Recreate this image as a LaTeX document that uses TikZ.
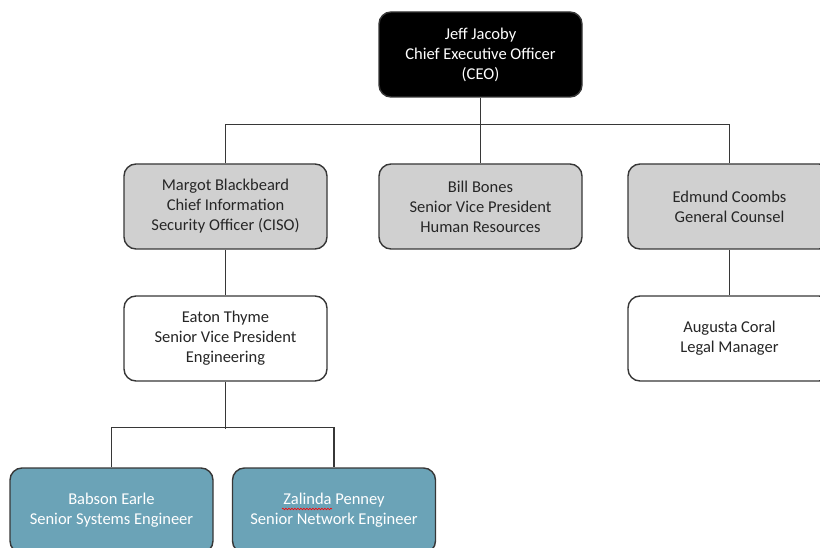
\documentclass[tikz,border=0pt]{standalone}
\usepackage{fontspec}
\setmainfont{Carlito}
\usepackage{tikz}
\usetikzlibrary{calc,decorations.pathmorphing}

\definecolor{boxgray}{RGB}{208,208,208}
\definecolor{boxteal}{RGB}{107,163,183}
\definecolor{edge}{RGB}{55,55,55}

\begin{document}
\begin{tikzpicture}[x=1pt, y=-1pt, main/.style = {draw=edge, line width=1.4pt, rounded corners=12pt, minimum width=203pt, minimum height=85pt, align=center, font=\fontsize{16.5}{20}\selectfont, text=black!85}, link/.style = {draw=edge, line width=1.2pt}] 
	\useasboundingbox (0, 0) rectangle (820, 548);
	\clip (0, 0) rectangle (820, 548);

	\node [main, fill=black, text=white] (0) at (480.5, 54.5) {Jeff Jacoby\\Chief Executive Officer\\(CEO)};
        \node [main, fill=boxgray] (1) at (225.5, 206.5) {Margot Blackbeard\\Chief Information\\Security Officer (CISO)};
	\node [main, fill=boxgray] (2) at (480.5, 206.5) {Bill Bones\\Senior Vice President\\Human Resources};
        \node [main, fill=boxgray] (3) at (729.5, 206.5) {Edmund Coombs\\General Counsel};
	\node [main, fill=white] (4) at (225.5, 338.5) {Eaton Thyme\\Senior Vice President\\Engineering};
	\node [main, fill=white] (5) at (729.5, 338.5) {Augusta Coral\\Legal Manager};
	\node [main, fill=boxteal, text=white] (6) at (111.5, 510.5) {Babson Earle\\Senior Systems Engineer};
	\node [main, fill=boxteal, text=white] (7) at (334, 510.5) {Zalinda Penney\\Senior Network Engineer};

    
    \draw[link] (0) --  (2);
    \draw[link] (1.north) -- ++(0, -39) -| (3.north);
    \draw[link] (1) --  (4);
    \draw[link] (3) --  (5);
    \draw[link] (4.south) -- ++(0, 47);
    \draw[link] (6.north) -- ++(0, -40) -| (7.north);
    \draw[red, line width=0.6pt, decorate, decoration={snake, amplitude=0.8pt, segment length=3pt}] ($(7.center)+(-52, -1.5)$) -- ($(7.center)+(-2, -1.5)$);



\end{tikzpicture}
\end{document}
